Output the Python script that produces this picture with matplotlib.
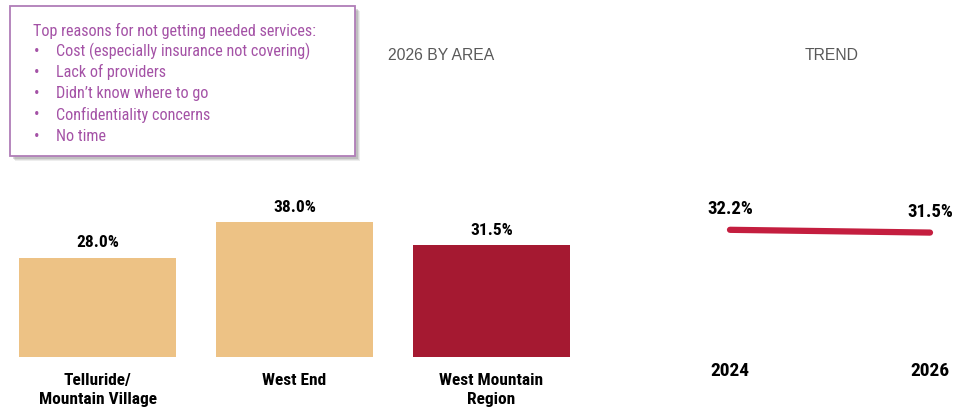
import matplotlib.pyplot as plt
from matplotlib.patches import FancyBboxPatch
from matplotlib import font_manager

# fonts: the reference uses a narrow sans; use one if installed, else shrink Liberation Sans
names = {f.name for f in font_manager.fontManager.ttflist}
narrow = None
for cand in ['Liberation Sans Narrow', 'Arial Narrow', 'Roboto Condensed', 'Open Sans Condensed']:
    if cand in names:
        narrow = cand
        break
if narrow:
    plt.rcParams['font.family'] = [narrow, 'DejaVu Sans']
    fs = 1.0
else:
    plt.rcParams['font.family'] = ['Liberation Sans', 'DejaVu Sans']
    fs = 0.88

# Data
areas = ['Telluride/\nMountain Village', 'West End', 'West Mountain\nRegion']
area_values = [28.0, 38.0, 31.5]
area_colors = ['#EDC285', '#EDC285', '#A51931']

years = [2024, 2026]
trend_values = [32.2, 31.5]

reasons_title = 'Top reasons for not getting needed services:'
reasons = ['Cost (especially insurance not covering)', 'Lack of providers',
           "Didn\u2019t know where to go", 'Confidentiality concerns', 'No time']

W, H = 954, 410
fig = plt.figure(figsize=(W / 100, H / 100), dpi=100)


def fx(px):
    return px / W


def fy(py):
    return 1 - py / H


# Bar chart by area
ax = fig.add_axes([0, fy(358), fx(600), 158 / H])
x = range(len(areas))
ax.bar(x, area_values, width=0.8, color=area_colors)
for i, v in enumerate(area_values):
    ax.annotate(f'{v:.1f}%', (i, v), xytext=(0, 11.5), textcoords='offset points',
                ha='center', va='center', fontsize=12.5 * fs, fontweight='bold')
ax.set_xlim(-0.495, 2.551)
ax.set_ylim(0, 158 / 3.55)
ax.set_xticks(list(x))
ax.set_xticklabels(areas, fontsize=12.5 * fs, fontweight='bold', linespacing=1.35)
ax.tick_params(axis='x', length=0, pad=11)
ax.set_yticks([])
for s in ax.spines.values():
    s.set_visible(False)

# Trend line
ax2 = fig.add_axes([fx(690), fy(358), fx(280), 158 / H])
ax2.plot(years, trend_values, color='#C41E3F', lw=4.5, solid_capstyle='round')
for yr, v in zip(years, trend_values):
    ax2.annotate(f'{v:.1f}%', (yr, v), xytext=(0, 15.5), textcoords='offset points',
                 ha='center', va='center', fontsize=13.5 * fs, fontweight='bold')
ax2.set_xlim(2023.6, 2026.4)
ax2.set_ylim(0, 40)
ax2.set_xticks(years)
ax2.set_xticklabels([str(y) for y in years], fontsize=14 * fs, fontweight='bold')
ax2.tick_params(axis='x', length=0, pad=3)
ax2.set_yticks([])
for s in ax2.spines.values():
    s.set_visible(False)

# Section titles (regular width sans in the reference)
title_font = ['Liberation Sans', 'DejaVu Sans']
fig.text(fx(441), fy(55), '2026 BY AREA', ha='center', va='center', fontsize=11.3,
         color='#595959', family=title_font)
fig.text(fx(832), fy(55), 'TREND', ha='center', va='center', fontsize=11.3,
         color='#595959', family=title_font)

# Reasons box with shadow
purple = '#A452A6'
for off, a in [(5, 0.15), (4, 0.2), (3, 0.3)]:
    fig.patches.append(FancyBboxPatch((fx(10 + off), fy(157 + off)), fx(345), 150 / H,
                                      boxstyle='square,pad=0', transform=fig.transFigure,
                                      facecolor='#888888', edgecolor='none', alpha=a))
fig.patches.append(FancyBboxPatch((fx(10), fy(157)), fx(345), 150 / H, boxstyle='square,pad=0',
                                  transform=fig.transFigure, facecolor='white',
                                  edgecolor='#B07DB8', lw=1.3))
fig.text(fx(33), fy(31), reasons_title, ha='left', va='center', fontsize=11.6 * fs, color=purple)
for k, r in enumerate(reasons):
    yy = 51 + k * 21.3
    fig.text(fx(34), fy(yy), '\u2022', ha='left', va='center', fontsize=11.6 * fs, color=purple)
    fig.text(fx(56), fy(yy), r, ha='left', va='center', fontsize=11.6 * fs, color=purple)

fig.savefig('out.png', dpi=100)
